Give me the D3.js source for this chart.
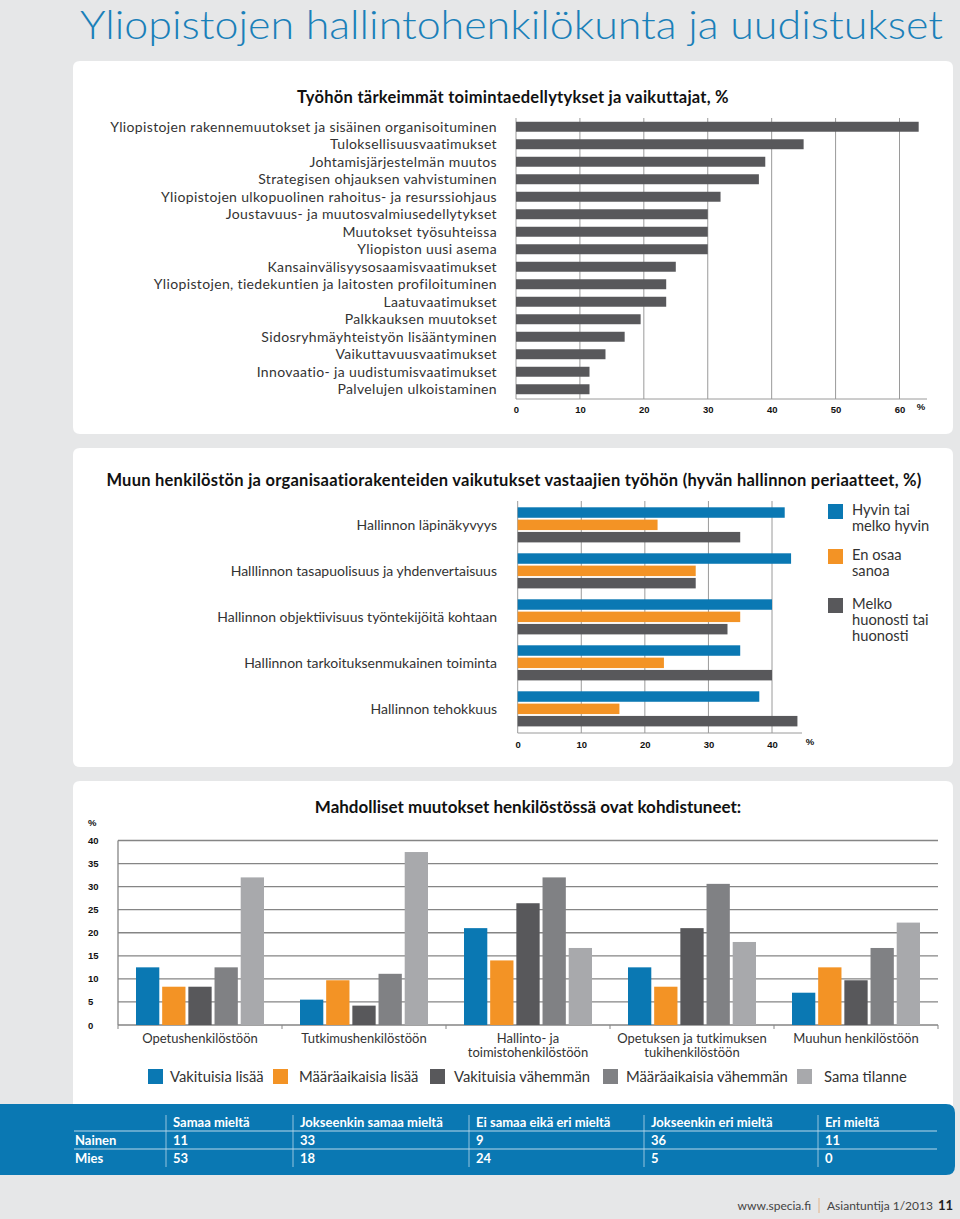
<!DOCTYPE html>
<html><head><meta charset="utf-8">
<script src="https://cdn.jsdelivr.net/npm/d3@7"></script>
<style>
body{margin:0;background:#e6e7e8;}
svg{display:block;}
</style></head>
<body>
<script>
// ---------- DATA ----------
const pageTitle = "Yliopistojen hallintohenkilökunta ja uudistukset";

const topTitle = "Työhön tärkeimmät toimintaedellytykset ja vaikuttajat, %";
const topCategories = [
  "Yliopistojen rakennemuutokset ja sisäinen organisoituminen",
  "Tuloksellisuusvaatimukset",
  "Johtamisjärjestelmän muutos",
  "Strategisen ohjauksen vahvistuminen",
  "Yliopistojen ulkopuolinen rahoitus- ja resurssiohjaus",
  "Joustavuus- ja muutosvalmiusedellytykset",
  "Muutokset työsuhteissa",
  "Yliopiston uusi asema",
  "Kansainvälisyysosaamisvaatimukset",
  "Yliopistojen, tiedekuntien ja laitosten profiloituminen",
  "Laatuvaatimukset",
  "Palkkauksen muutokset",
  "Sidosryhmäyhteistyön lisääntyminen",
  "Vaikuttavuusvaatimukset",
  "Innovaatio- ja uudistumisvaatimukset",
  "Palvelujen ulkoistaminen"
];
const topValues = [63, 45, 39, 38, 32, 30, 30, 30, 25, 23.5, 23.5, 19.5, 17, 14, 11.5, 11.5];
const topTicks = [0, 10, 20, 30, 40, 50, 60];

const govTitle = "Muun henkilöstön ja organisaatiorakenteiden vaikutukset vastaajien työhön (hyvän hallinnon periaatteet, %)";
const govCategories = [
  "Hallinnon läpinäkyvyys",
  "Halllinnon tasapuolisuus ja yhdenvertaisuus",
  "Hallinnon objektiivisuus työntekijöitä kohtaan",
  "Hallinnon tarkoituksenmukainen toiminta",
  "Hallinnon tehokkuus"
];
const govSeries = [["Hyvin tai", "melko hyvin"], ["En osaa", "sanoa"], ["Melko", "huonosti tai", "huonosti"]];
const govGood = [42, 43, 40, 35, 38];
const govDontKnow = [22, 28, 35, 23, 16];
const govBad = [35, 28, 33, 40, 44];
const govTicks = [0, 10, 20, 30, 40];

const chgTitle = "Mahdolliset muutokset henkilöstössä ovat kohdistuneet:";
const chgCategories = [
  ["Opetushenkilöstöön"],
  ["Tutkimushenkilöstöön"],
  ["Hallinto- ja", "toimistohenkilöstöön"],
  ["Opetuksen ja tutkimuksen", "tukihenkilöstöön"],
  ["Muuhun henkilöstöön"]
];
const chgSeries = ["Vakituisia lisää", "Määräaikaisia lisää", "Vakituisia vähemmän", "Määräaikaisia vähemmän", "Sama tilanne"];
const chgVakLisaa = [12.5, 5.5, 21, 12.5, 7];
const chgMaarLisaa = [8.3, 9.7, 14, 8.3, 12.5];
const chgVakVah = [8.3, 4.2, 26.4, 21, 9.7];
const chgMaarVah = [12.5, 11.1, 32, 30.6, 16.7];
const chgSama = [32, 37.5, 16.7, 18, 22.2];
const chgTicks = [0, 5, 10, 15, 20, 25, 30, 35, 40];

const tableColumns = ["Samaa mieltä", "Jokseenkin samaa mieltä", "Ei samaa eikä eri mieltä", "Jokseenkin eri mieltä", "Eri mieltä"];
const tableRows = ["Nainen", "Mies"];
const tableNainen = [11, 33, 9, 36, 11];
const tableMies = [53, 18, 24, 5, 0];

const footerSite = "www.specia.fi";
const footerIssue = "Asiantuntija 1/2013";
const footerPage = "11";

// ---------- STYLE ----------
const W = 960, H = 1219;
const FONT = "Lato, 'Open Sans', sans-serif";
const NUMFONT = "'Liberation Sans', Arial, sans-serif";
const BLUE = "#0a78b3", ORANGE = "#f39325", DARK = "#58585b", MID = "#808184", LIGHT = "#a8a9ac";
const TXT = "#333";

const svg = d3.select("body").append("svg").attr("width", W).attr("height", H)
  .style("font-family", FONT);

svg.append("rect").attr("width", W).attr("height", H).attr("fill", "#e6e7e8");

// page title
svg.append("text").attr("x", 80).attr("y", 38.5).attr("fill", "#1a80b9")
  .attr("font-size", 39).attr("font-weight", 300)
  .attr("textLength", 863).attr("lengthAdjust", "spacingAndGlyphs").text(pageTitle);

// panels
function panel(y0, y1, bottomRound = true) {
  svg.append("path").attr("fill", "#fff").attr("d", (() => {
    const x0 = 73, x1 = 953, r = 7;
    const rb = bottomRound ? r : 0;
    return `M${x0 + r},${y0} H${x1 - r} Q${x1},${y0} ${x1},${y0 + r} V${y1 - rb} Q${x1},${y1} ${x1 - rb},${y1} H${x0 + rb} Q${x0},${y1} ${x0},${y1 - rb} V${y0 + r} Q${x0},${y0} ${x0 + r},${y0} Z`;
  })());
}
panel(61, 434);
panel(448, 767);
panel(781, 1110, false);

const titleStyle = sel => sel.attr("text-anchor", "middle").attr("font-weight", 700).attr("fill", "#111");

// ---------- CHART 1 ----------
{
  const x = d3.scaleLinear().domain([0, 60]).range([516, 899.5]);
  const y = d3.scaleBand().domain(topCategories).range([118, 398]).paddingInner(0.43).paddingOuter(0.215);
  const g = svg.append("g");
  g.append("text").attr("x", 513).attr("y", 103).call(titleStyle)
    .attr("font-size", 16.5).attr("letter-spacing", 0.25).text(topTitle);
  g.selectAll(".grid").data(topTicks).join("line")
    .attr("x1", d => x(d)).attr("x2", d => x(d)).attr("y1", 118).attr("y2", 399)
    .attr("stroke", "#9a9a9a").attr("stroke-width", 1);
  g.append("line").attr("x1", 516).attr("x2", 927).attr("y1", 399).attr("y2", 399).attr("stroke", "#9a9a9a");
  const ax = d3.axisBottom(x).tickValues(topTicks).tickSize(0).tickPadding(7);
  const axg = g.append("g").attr("transform", "translate(0,399)").call(ax);
  axg.select(".domain").remove();
  axg.selectAll("text").attr("font-family", NUMFONT).attr("font-weight", 700).attr("font-size", 9.5).attr("fill", "#111");
  g.append("text").attr("x", 921).attr("y", 410).attr("text-anchor", "middle").attr("font-family", NUMFONT)
    .attr("font-size", 9.5).attr("font-weight", 700).attr("fill", "#111").text("%");
  g.selectAll(".bar").data(topCategories).join("rect")
    .attr("x", x(0)).attr("y", d => y(d)).attr("height", y.bandwidth())
    .attr("width", (d, i) => x(topValues[i]) - x(0)).attr("fill", DARK);
  g.selectAll(".lab").data(topCategories).join("text")
    .attr("x", 497).attr("y", d => y(d) + y.bandwidth() / 2).attr("dy", "0.36em")
    .attr("text-anchor", "end").attr("font-size", 14).attr("letter-spacing", 0.35)
    .attr("fill", TXT).text(d => d);
}

// ---------- CHART 2 ----------
{
  const x = d3.scaleLinear().domain([0, 40]).range([517.7, 772]);
  const y = d3.scaleBand().domain(govCategories).range([501, 731]);
  const series = [govGood, govDontKnow, govBad];
  const colors = [BLUE, ORANGE, DARK];
  const yi = d3.scaleBand().domain([0, 1, 2]).range([6.3, 41.4]).paddingInner(0.15);
  const g = svg.append("g");
  g.append("text").attr("x", 514).attr("y", 486).call(titleStyle)
    .attr("font-size", 16.5).attr("letter-spacing", 0.25).text(govTitle);
  g.selectAll(".grid").data(govTicks).join("line")
    .attr("x1", d => x(d)).attr("x2", d => x(d)).attr("y1", 501).attr("y2", 733)
    .attr("stroke", "#9a9a9a");
  g.append("line").attr("x1", 517.7).attr("x2", 802).attr("y1", 733).attr("y2", 733).attr("stroke", "#9a9a9a");
  const axg = g.append("g").attr("transform", "translate(0,733)")
    .call(d3.axisBottom(x).tickValues(govTicks).tickSize(0).tickPadding(8));
  axg.select(".domain").remove();
  axg.selectAll("text").attr("font-family", NUMFONT).attr("font-weight", 700).attr("font-size", 9.5).attr("fill", "#111");
  g.append("text").attr("x", 810).attr("y", 745).attr("text-anchor", "middle").attr("font-family", NUMFONT)
    .attr("font-size", 9.5).attr("font-weight", 700).attr("fill", "#111").text("%");
  series.forEach((vals, s) => {
    g.selectAll(".b" + s).data(govCategories).join("rect")
      .attr("x", x(0)).attr("y", d => y(d) + yi(s)).attr("height", yi.bandwidth())
      .attr("width", (d, i) => x(vals[i]) - x(0)).attr("fill", colors[s]);
  });
  g.selectAll(".lab").data(govCategories).join("text")
    .attr("x", 497).attr("y", d => y(d) + yi(1) + yi.bandwidth() / 2).attr("dy", "0.36em")
    .attr("text-anchor", "end").attr("font-size", 14).attr("fill", TXT).text(d => d);
  const legY = [504, 549, 598];
  govSeries.forEach((lines, s) => {
    g.append("rect").attr("x", 828).attr("y", legY[s]).attr("width", 15).attr("height", 15).attr("fill", colors[s]);
    lines.forEach((t, k) => {
      g.append("text").attr("x", 852).attr("y", legY[s] + 6 + k * 16).attr("dy", "0.36em")
        .attr("font-size", 14.7).attr("fill", TXT).text(t);
    });
  });
}

// ---------- CHART 3 ----------
{
  const y = d3.scaleLinear().domain([0, 40]).range([1025, 840.5]);
  const xg = d3.scaleBand().domain(d3.range(chgCategories.length)).range([118, 938]);
  const series = [chgVakLisaa, chgMaarLisaa, chgVakVah, chgMaarVah, chgSama];
  const colors = [BLUE, ORANGE, DARK, MID, LIGHT];
  const xi = d3.scaleBand().domain(d3.range(5)).range([18, 146]).paddingInner(0.11);
  const g = svg.append("g");
  g.append("text").attr("x", 528).attr("y", 813).call(titleStyle)
    .attr("font-size", 17).text(chgTitle);
  g.selectAll(".grid").data(chgTicks).join("line")
    .attr("x1", 118).attr("x2", 938).attr("y1", d => y(d)).attr("y2", d => y(d))
    .attr("stroke", "#858585").attr("stroke-width", 1.3);
  g.append("line").attr("x1", 118).attr("x2", 118).attr("y1", y(40)).attr("y2", y(0)).attr("stroke", "#858585").attr("stroke-width", 1.3);
  g.selectAll(".gt").data(d3.range(chgCategories.length + 1)).join("line")
    .attr("x1", d => 118 + d * xg.step()).attr("x2", d => 118 + d * xg.step())
    .attr("y1", 1025).attr("y2", 1029).attr("stroke", "#858585");
  const ayg = g.append("g").attr("transform", "translate(88,0)")
    .call(d3.axisLeft(y).tickValues(chgTicks).tickSize(0).tickPadding(0));
  ayg.select(".domain").remove();
  ayg.selectAll("text").attr("text-anchor", "start").attr("font-family", NUMFONT).attr("font-weight", 700)
    .attr("font-size", 9.5).attr("fill", "#111");
  g.append("text").attr("x", 88).attr("y", 826).attr("font-family", NUMFONT)
    .attr("font-size", 9.5).attr("font-weight", 700).attr("fill", "#111").text("%");
  series.forEach((vals, s) => {
    g.selectAll(".b" + s).data(d3.range(chgCategories.length)).join("rect")
      .attr("x", d => xg(d) + xi(s)).attr("width", xi.bandwidth())
      .attr("y", d => y(vals[d])).attr("height", d => y(0) - y(vals[d])).attr("fill", colors[s]);
  });
  chgCategories.forEach((lines, c) => {
    lines.forEach((t, k) => {
      g.append("text").attr("x", xg(c) + xg.bandwidth() / 2).attr("y", 1038 + k * 14).attr("dy", "0.36em")
        .attr("text-anchor", "middle").attr("font-size", 13).attr("fill", TXT).text(t);
    });
  });
  const legX = [148, 273, 430, 603, 797];
  const legTX = [170, 299, 454, 626, 824];
  chgSeries.forEach((t, s) => {
    g.append("rect").attr("x", legX[s]).attr("y", 1069).attr("width", 15).attr("height", 15).attr("fill", colors[s]);
    g.append("text").attr("x", legTX[s]).attr("y", 1077).attr("dy", "0.36em")
      .attr("font-size", 14.8).attr("fill", TXT).text(t);
  });
}

// ---------- TABLE ----------
{
  const g = svg.append("g");
  g.append("path").attr("fill", "#0a78b3")
    .attr("d", "M0,1104 H946 Q955,1104 955,1113 V1166 Q955,1175 946,1175 H0 Z");
  const colX = [166, 293, 469, 644, 818];
  const rowY = [1122, 1140, 1158];
  g.selectAll(".vs").data(colX).join("line")
    .attr("x1", d => d).attr("x2", d => d).attr("y1", 1115).attr("y2", 1167)
    .attr("stroke", "#b9d8ea").attr("stroke-width", 0.8);
  [1131, 1149].forEach(yy => g.append("line").attr("x1", 74).attr("x2", 937).attr("y1", yy).attr("y2", yy)
    .attr("stroke", "#b9d8ea").attr("stroke-width", 1));
  const tstyle = sel => sel.attr("font-size", 13).attr("font-weight", 700).attr("fill", "#fff").attr("dy", "0.36em");
  tableColumns.forEach((c, i) => g.append("text").attr("x", colX[i] + 7).attr("y", rowY[0]).call(tstyle).text(c));
  const rows = [tableNainen, tableMies];
  tableRows.forEach((r, j) => {
    g.append("text").attr("x", 75).attr("y", rowY[j + 1]).call(tstyle).text(r);
    rows[j].forEach((v, i) => g.append("text").attr("x", colX[i] + 7).attr("y", rowY[j + 1]).call(tstyle).text(v));
  });
}

// ---------- FOOTER ----------
{
  const g = svg.append("g").attr("font-size", 12).attr("fill", "#444");
  g.append("text").attr("x", 811).attr("y", 1210).attr("text-anchor", "end").text(footerSite);
  g.append("line").attr("x1", 819).attr("x2", 819).attr("y1", 1198).attr("y2", 1213).attr("stroke", "#e3b58a").attr("stroke-width", 1);
  g.append("text").attr("x", 827).attr("y", 1210).text(footerIssue);
  g.append("text").attr("x", 953).attr("y", 1210).attr("text-anchor", "end").attr("font-weight", 700)
    .attr("font-size", 13).attr("fill", "#222").text(footerPage);
}
</script>
</body></html>
